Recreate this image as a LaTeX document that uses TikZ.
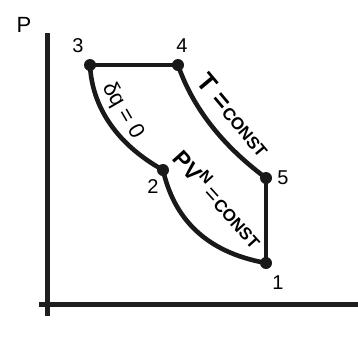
\documentclass[tikz,border=0pt]{standalone}
\usepackage{fontspec}
\setmainfont{Liberation Sans}
\begin{document}
\begin{tikzpicture}[x=1pt,y=-1pt,
  curve/.style={line width=4.6pt,line cap=round,line join=round,color=black!90},
  axis/.style={line width=5pt,color=black!88},
  dot/.style={circle,fill=black!90,inner sep=0pt,minimum size=12pt},
  num/.style={font=\fontsize{20}{20}\selectfont,inner sep=0pt},
  lab/.style={font=\bfseries,inner sep=0pt}]
\useasboundingbox (0,0) rectangle (358,338);
% axes
\coordinate (ytop) at (47,33);
\coordinate (ybot) at (47,316);
\coordinate (xl) at (39,304);
\coordinate (xr) at (358,304);
\draw[axis] (ytop) -- (ybot);
\draw[axis] (xl) -- (xr);
\node[font=\fontsize{22}{22}\selectfont,inner sep=0pt] (P) at (24,25) {P};
% points
\node[dot] (p3) at (90,65) {};
\node[dot] (p4) at (178,65) {};
\node[dot] (p5) at (266,178) {};
\node[dot] (p1) at (266,263) {};
\node[dot] (p2) at (163,170) {};
% curves
\draw[curve] (p3.center) -- (p4.center);
\draw[curve] (p4.center) .. controls (190,100) and (215,140) .. (p5.center);
\draw[curve] (p5.center) -- (p1.center);
\draw[curve] (p3.center) .. controls (92,108) and (118,145) .. (p2.center);
\draw[curve] (p2.center) .. controls (174,218) and (205,252) .. (p1.center);
% number labels
\node[num] (l3) at (78,46) {3};
\node[num] (l4) at (182,46) {4};
\node[num] (l5) at (283,178) {5};
\node[num] (l1) at (278,283) {1};
\node[num] (l2) at (153,187) {2};
% curve labels
\node[lab,rotate=-50] (tc) at (234,115) {{\fontsize{26}{26}\selectfont T =}\,{\fontsize{17}{17}\selectfont CONST}};
\node[lab,rotate=-48] (pv) at (219,198) {{\fontsize{23}{23}\selectfont PV$^{\mathbf{N}}$\,{\normalfont=}}\,{\fontsize{17}{17}\selectfont CONST}};
\node[inner sep=0pt,rotate=-60,font=\fontsize{22}{22}\selectfont] (dq) at (123,111) {δq = 0};
\end{tikzpicture}
\end{document}
